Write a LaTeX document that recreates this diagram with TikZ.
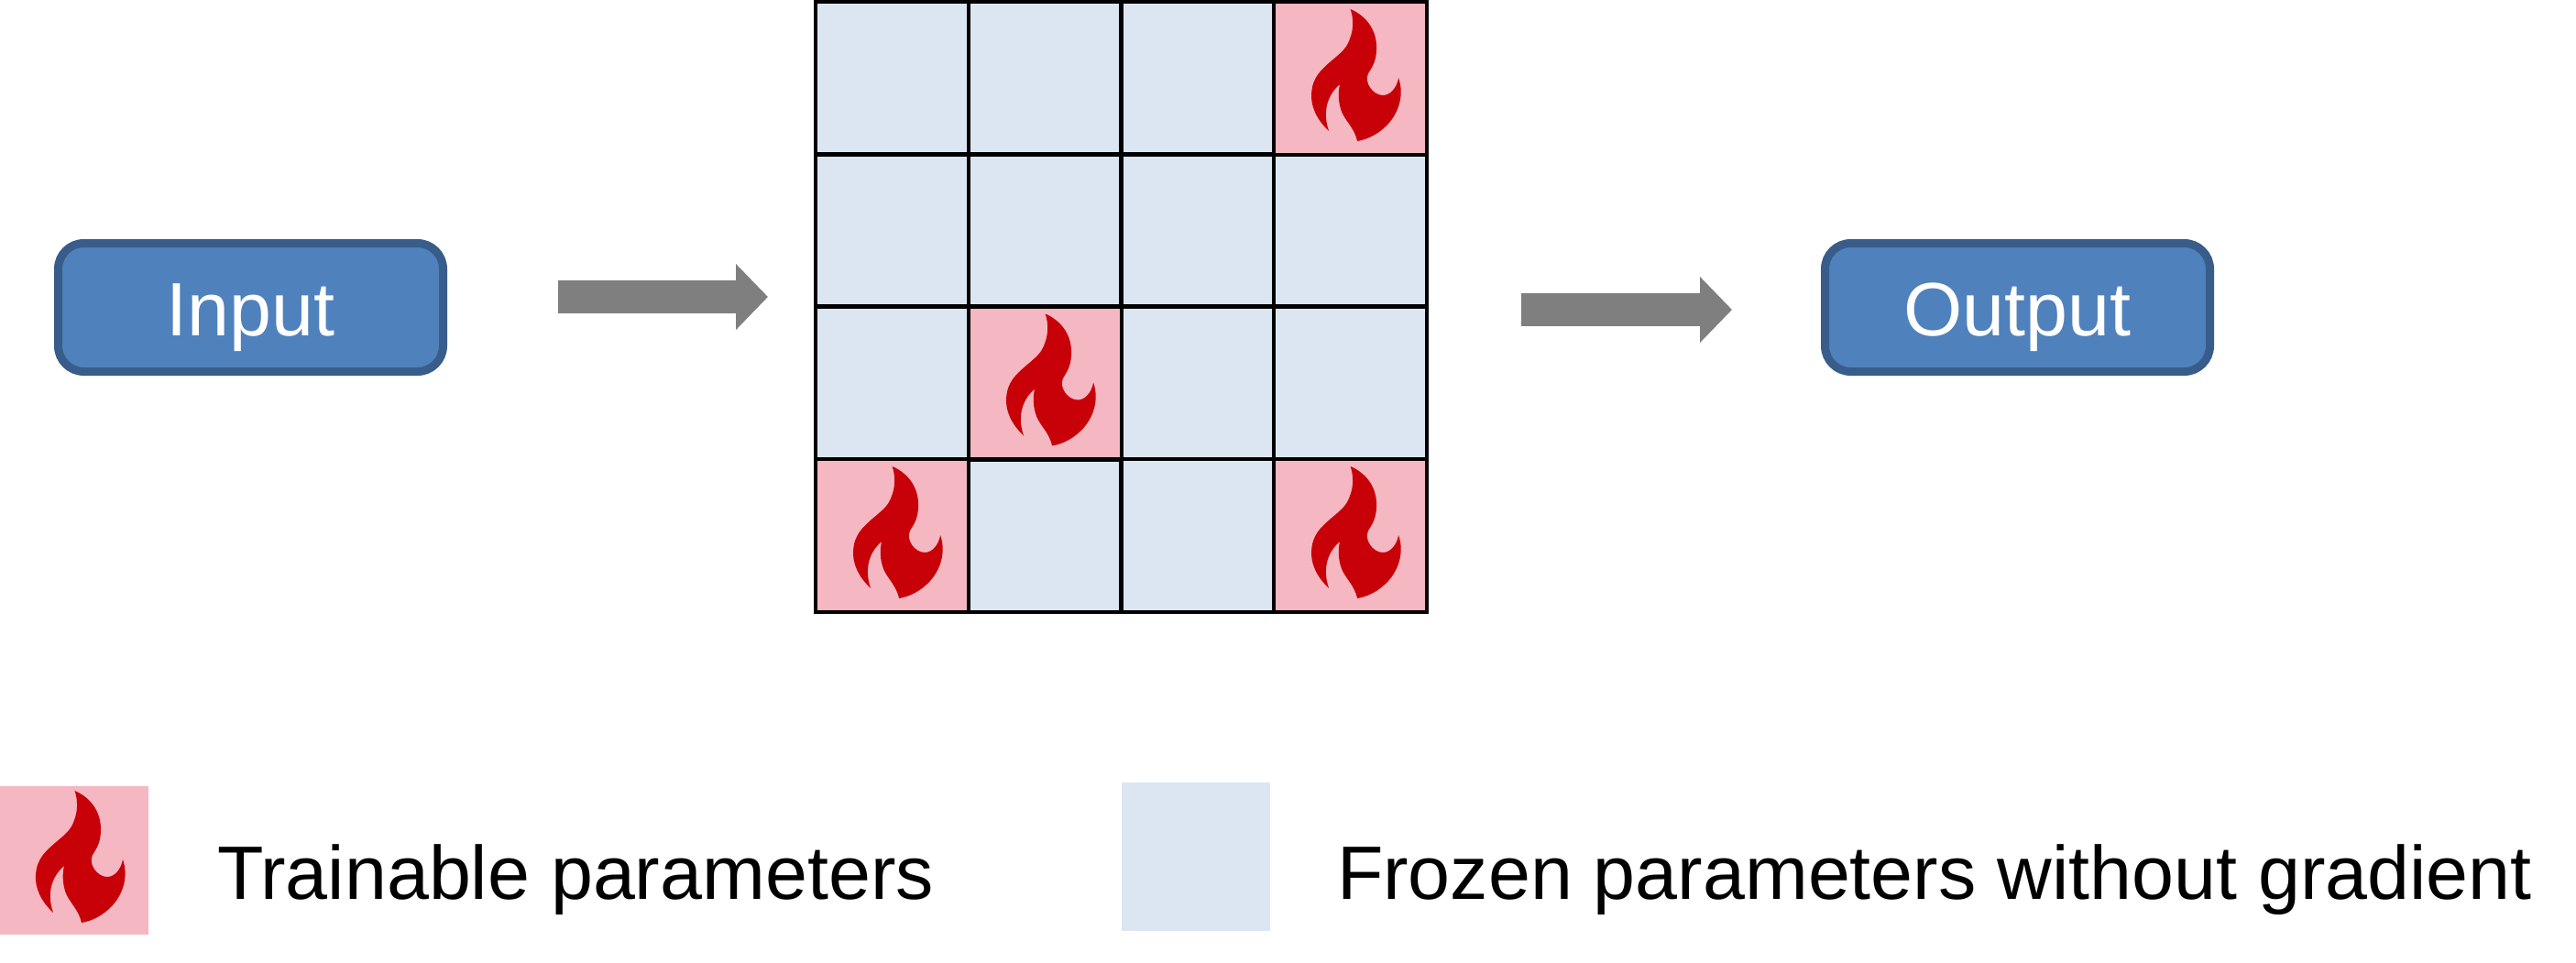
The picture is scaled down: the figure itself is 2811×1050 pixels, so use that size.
\documentclass[tikz,border=0pt]{standalone}
\usepackage{fontspec}
\setmainfont{Liberation Sans}
\usetikzlibrary{arrows.meta}
\definecolor{frozenblue}{HTML}{DCE6F2}
\definecolor{trainpink}{HTML}{F5B7C1}
\definecolor{flamered}{HTML}{C80008}
\definecolor{boxfill}{HTML}{4F81BD}
\definecolor{boxline}{HTML}{385D8A}
\definecolor{arrowgrey}{HTML}{7F7F7F}
\tikzset{
  px/.style={x=0.5pt,y=-0.5pt},
  frozencell/.style={rectangle,draw=black,line width=2.25pt,fill=frozenblue,minimum width=83.4pt,minimum height=83.3pt,inner sep=0pt,outer sep=0pt},
  traincell/.style={frozencell,fill=trainpink},
  bluebox/.style={rectangle,rounded corners=14pt,draw=boxline,fill=boxfill,line width=4.5pt,text=white,minimum width=210pt,minimum height=70pt,inner sep=0pt,outer sep=0pt,text height=30.5pt,text depth=0pt,font=\fontsize{41.3}{50}\selectfont},
  blockarrow/.style={draw=arrowgrey,line width=18pt,-{Triangle[length=17.5pt,width=35pt]}},
  legendswatch/.style={rectangle,minimum width=81pt,minimum height=81pt,inner sep=0pt,outer sep=0pt},
  legendtext/.style={anchor=base west,inner sep=0pt,outer sep=0pt,font=\fontsize{41.3}{50}\selectfont},
  flame/.pic={
    \fill[flamered] (93.5,10) .. controls (108,16) and (122,30) .. (122,52)
      .. controls (122,66) and (118,72) .. (113,80)
      .. controls (108,90) and (118,104) .. (129,104)
      .. controls (137,104) and (144,96) .. (146,85)
      .. controls (153,105) and (145,125) .. (133,137)
      .. controls (124,146) and (113,152) .. (101,154)
      .. controls (98,140) and (88,132) .. (84,122)
      .. controls (80,112) and (80,100) .. (82,92)
      .. controls (70,102) and (62,120) .. (70,143)
      .. controls (56,130) and (50,115) .. (51,102)
      .. controls (52,84) and (62,76) .. (72,67)
      .. controls (84,57) and (90,52) .. (93,42)
      .. controls (97,32) and (97,20) .. (93.5,10) -- cycle;
  }
}
\begin{document}
\begin{tikzpicture}[px]
\useasboundingbox (0,0) rectangle (2811,1050);
% grid cells
\foreach \r/\yy in {0/85.5,1/252,2/418,3/584.5}{
  \foreach \c/\xx in {0/973.5,1/1140.5,2/1307,3/1473.5}{
    \node[frozencell] (c\r\c) at (\xx,\yy) {};
  }
}
\node[traincell] (c03) at (1473.5,85.5) {};
\node[traincell] (c21) at (1140.5,418) {};
\node[traincell] (c30) at (973.5,584.5) {};
\node[traincell] (c33) at (1473.5,584.5) {};
\draw[line width=2.25pt] (c00.north west) rectangle (c33.south east);
\foreach \cellname in {c03,c21,c30,c33}{
  \pic[xshift=-46.7pt,yshift=42.75pt] at (\cellname.center) {flame};
}
% boxes
\node[bluebox] (input) at (273.5,335.5) {Input};
\node[bluebox] (output) at (2201.5,335.5) {Output};
% arrows
\coordinate (a1s) at (609,324);
\coordinate (a1e) at (838,324);
\coordinate (a2s) at (1660,338);
\coordinate (a2e) at (1890,338);
\draw[blockarrow] (a1s) -- (a1e);
\draw[blockarrow] (a2s) -- (a2e);
% legend
\node[legendswatch,fill=trainpink] (legpink) at (81,939) {};
\pic[xshift=-6pt,yshift=-426.5pt] at (0,0) {flame};
\node[legendtext] (legtrain) at (237,981) {Trainable parameters};
\node[legendswatch,fill=frozenblue] (legblue) at (1305,935) {};
\node[legendtext] (legfrozen) at (1459,981) {Frozen parameters without gradient};
\end{tikzpicture}
\end{document}
